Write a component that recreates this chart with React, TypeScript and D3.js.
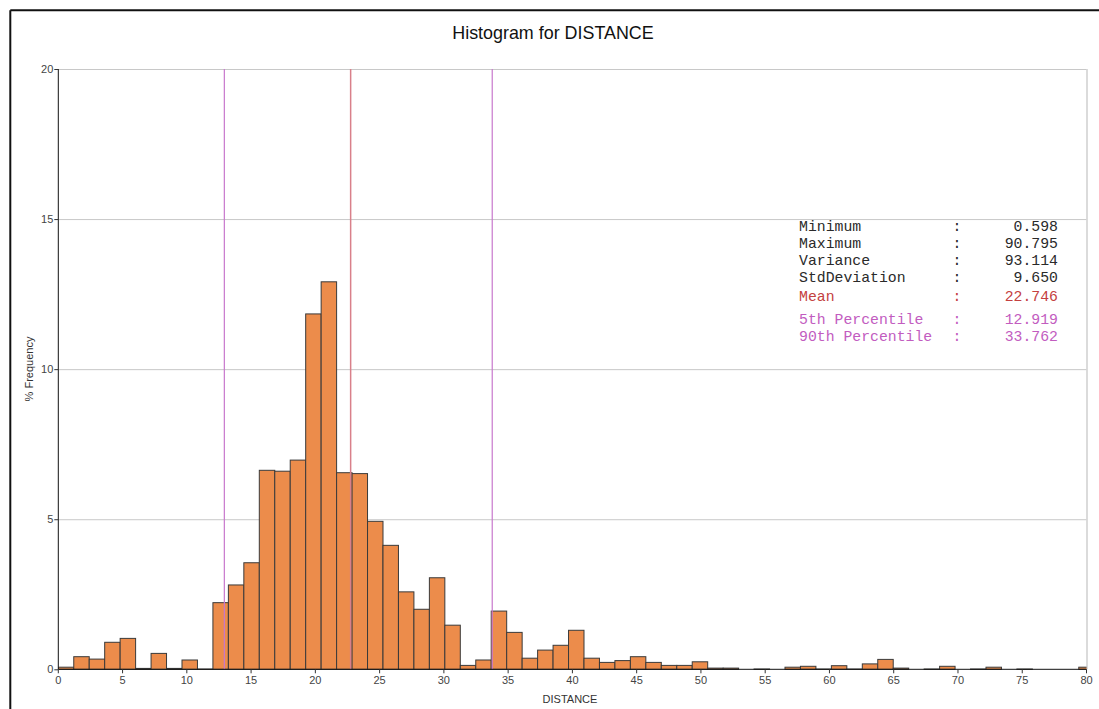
import React from "react";
import * as d3 from "d3";

// Histogram bins for DISTANCE: each bin starts at index * BIN_WIDTH, value is % frequency
const BIN_WIDTH = 1.203;
const binPercents = [
  0.07, 0.42, 0.34, 0.9, 1.03, 0.03, 0.53, 0.03, 0.31, 0.01,
  2.22, 2.81, 3.55, 6.63, 6.6, 6.97, 11.84, 12.91, 6.55, 6.52,
  4.93, 4.13, 2.58, 2.0, 3.05, 1.47, 0.13, 0.31, 1.94, 1.23,
  0.37, 0.64, 0.8, 1.3, 0.37, 0.23, 0.29, 0.42, 0.23, 0.13,
  0.13, 0.25, 0.04, 0.04, 0, 0.01, 0, 0.07, 0.1, 0.01,
  0.12, 0.01, 0.18, 0.33, 0.04, 0, 0.01, 0.1, 0, 0.01,
  0.07, 0, 0.01, 0, 0, 0, 0.07,
];

const xTicks = [0, 5, 10, 15, 20, 25, 30, 35, 40, 45, 50, 55, 60, 65, 70, 75, 80];
const yTicks = [0, 5, 10, 15, 20];

// Summary statistics shown in the panel
const statLabels = ["Minimum", "Maximum", "Variance", "StdDeviation", "Mean", "5th Percentile", "90th Percentile"];
const statValues = [0.598, 90.795, 93.114, 9.65, 22.746, 12.919, 33.762];
const statKinds = ["plain", "plain", "plain", "plain", "mean", "pct", "pct"];

const MEAN = 22.746;
const PCT5 = 12.919;
const PCT90 = 33.762;

const W = 1099;
const H = 709;
const plot = { left: 58.3, right: 1086.5, top: 69, bottom: 669.3 };

const BAR_FILL = "#EC8C4B";
const BAR_STROKE = "#3a3a3a";
const MEAN_COLOR = "#d9808a";
const PCT_COLOR = "#c877cc";
const MEAN_TEXT = "#c44040";
const PCT_TEXT = "#c25cbf";
const FONT = "'Liberation Sans', Arial, sans-serif";
const MONO = "'Liberation Mono', 'Courier New', monospace";

export default function App() {
  const x = d3.scaleLinear().domain([0, 80]).range([plot.left, plot.right]);
  const y = d3.scaleLinear().domain([0, 20]).range([plot.bottom, plot.top]);

  const rowBaselines = [231, 248, 265, 282, 301, 324, 341];

  return (
    <svg
      width={W}
      height={H}
      style={{ position: "absolute", left: 0, top: 0, display: "block", background: "#fff" }}
    >
      <defs>
        <clipPath id="plotClip">
          <rect x={plot.left} y={plot.top - 1} width={plot.right - plot.left} height={plot.bottom - plot.top + 2} />
        </clipPath>
      </defs>

      {/* outer frame */}
      <line x1={10.3} x2={W} y1={10.3} y2={10.3} stroke="#111" strokeWidth={2} />
      <line x1={10.3} x2={10.3} y1={10.3} y2={H} stroke="#111" strokeWidth={2} />

      {/* title */}
      <text x={553} y={38.5} textAnchor="middle" fontFamily={FONT} fontSize={17.9} fill="#111">
        Histogram for DISTANCE
      </text>

      {/* horizontal grid */}
      {yTicks.filter((t) => t > 0).map((t) => (
        <line key={"g" + t} x1={plot.left} x2={plot.right} y1={y(t) + 0.5} y2={y(t) + 0.5} stroke="#c8c8c8" strokeWidth={1} />
      ))}
      {/* right border of plot */}
      <line x1={plot.right + 0.5} x2={plot.right + 0.5} y1={plot.top} y2={plot.bottom} stroke="#cfcfcf" strokeWidth={1.5} />

      {/* bars */}
      <g clipPath="url(#plotClip)">
        {binPercents.map((v, i) => {
          const x0 = x(i * BIN_WIDTH);
          const x1 = x((i + 1) * BIN_WIDTH);
          const yt = y(v);
          return (
            <rect
              key={"b" + i}
              x={x0}
              y={yt}
              width={x1 - x0}
              height={Math.max(0, plot.bottom - yt)}
              fill={BAR_FILL}
              stroke={BAR_STROKE}
              strokeWidth={1}
            />
          );
        })}
      </g>

      {/* reference lines */}
      <line x1={x(PCT5)} x2={x(PCT5)} y1={plot.top} y2={plot.bottom} stroke={PCT_COLOR} strokeWidth={1.2} />
      <line x1={x(MEAN)} x2={x(MEAN)} y1={plot.top} y2={plot.bottom} stroke={MEAN_COLOR} strokeWidth={1.5} />
      <line x1={x(PCT90)} x2={x(PCT90)} y1={plot.top} y2={plot.bottom} stroke={PCT_COLOR} strokeWidth={1.2} />

      {/* axes */}
      <line x1={plot.left} x2={plot.left} y1={plot.top} y2={plot.bottom} stroke="#111" strokeWidth={1} />
      <line x1={plot.left} x2={plot.right} y1={plot.bottom} y2={plot.bottom} stroke="#111" strokeWidth={1} />

      {yTicks.map((t) => (
        <g key={"yt" + t}>
          <line x1={plot.left - 4} x2={plot.left} y1={y(t) + 0.5} y2={y(t) + 0.5} stroke="#333" />
          <text x={plot.left - 5} y={y(t) + 4} textAnchor="end" fontFamily={FONT} fontSize={11} fill="#444">
            {t}
          </text>
        </g>
      ))}

      {xTicks.map((t) => (
        <g key={"xt" + t}>
          <line x1={x(t)} x2={x(t)} y1={plot.bottom} y2={plot.bottom + 4} stroke="#333" />
          <text x={x(t)} y={plot.bottom + 15} textAnchor="middle" fontFamily={FONT} fontSize={11} fill="#444">
            {t}
          </text>
        </g>
      ))}

      {/* axis titles */}
      <text x={570} y={703} textAnchor="middle" fontFamily={FONT} fontSize={11} fill="#333">
        DISTANCE
      </text>
      <text
        transform={`translate(33, ${369}) rotate(-90)`}
        textAnchor="middle"
        fontFamily={FONT}
        fontSize={11}
        fill="#333"
      >
        % Frequency
      </text>

      {/* statistics panel */}
      {statLabels.map((label, i) => {
        const kind = statKinds[i];
        const color = kind === "mean" ? MEAN_TEXT : kind === "pct" ? PCT_TEXT : "#2a2a2a";
        const yb = rowBaselines[i];
        return (
          <g key={"s" + i} fontFamily={MONO} fontSize={14.8} fill={color}>
            <text x={799} y={yb}>{label}</text>
            <text x={957} y={yb} textAnchor="middle">:</text>
            <text x={1058} y={yb} textAnchor="end">{d3.format(".3f")(statValues[i])}</text>
          </g>
        );
      })}
    </svg>
  );
}
